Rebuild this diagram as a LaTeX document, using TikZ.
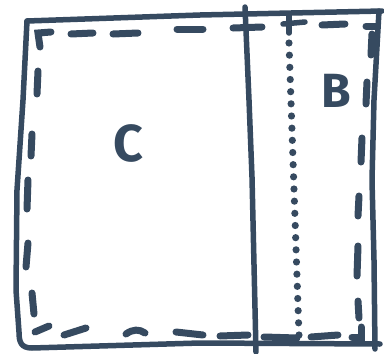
\documentclass[tikz,border=0pt]{standalone}
\usepackage{fontspec}
\setsansfont{Fira Sans}
\definecolor{ink}{RGB}{54,74,96}
\begin{document}
\begin{tikzpicture}[x=1pt,y=-1pt,
  outline/.style={draw=ink,line width=5.5pt,line cap=round,line join=round},
  dashstroke/.style={draw=ink,line width=7pt,line cap=round},
  letter/.style={text=ink,font=\sffamily\bfseries\fontsize{52}{52}\selectfont,inner sep=0pt}]
\useasboundingbox (0,0) rectangle (384,354);
% outer frame
\draw[outline] (27,21) -- (200,15) -- (382,11);
\draw[outline] (379,11) -- (374,100) -- (372,180) -- (374,260) -- (375,349);
\draw[outline] (380,344) -- (200,343) -- (32,348) .. controls (21,348) and (19,342) .. (19,332) -- (16,290) -- (17,190) -- (23,100) -- (27,21);
% divider
\draw[outline] (245,7) -- (249,100) -- (252,177) -- (256,352);
% dotted line with cross at top
\draw[dashstroke,line width=5.5pt] (289,15) -- (289,33);
\draw[dashstroke,line width=5.5pt] (283,24) -- (305,22);
\foreach \i in {0,...,24}{
  \fill[ink] ({289+10*\i/24},{43+292*\i/24}) circle (3.6pt);
}
% dashed inner border: top
\draw[dashstroke] (40,47) -- (38,33) -- (51,32);
\draw[dashstroke] (71,34) -- (93,33);
\draw[dashstroke] (113,34) -- (138,33);
\draw[dashstroke] (177,29) -- (203,29);
\draw[dashstroke] (233,28) -- (262,27);
\draw[dashstroke] (322,25) -- (345,24);
\draw[dashstroke] (366,26) -- (376,26);
% right
\draw[dashstroke] (372,34) -- (371,55);
\draw[dashstroke] (367,82) -- (366,104);
\draw[dashstroke] (362,138) -- (361,162);
\draw[dashstroke] (359,196) -- (358,216);
\draw[dashstroke] (358,246) -- (357,276);
\draw[dashstroke] (358,301) -- (359,318);
\draw[dashstroke] (352,337) -- (361,337) -- (361,327);
% bottom
\draw[dashstroke] (311,337) -- (338,335);
\draw[dashstroke] (264,337) -- (297,338);
\draw[dashstroke] (220,336) -- (248,335);
\draw[dashstroke] (176,332) -- (203,335);
\draw[dashstroke] (126,334) .. controls (133,329) and (139,329) .. (145,333);
\draw[dashstroke] (64,335) -- (86,328);
\draw[dashstroke] (35,332) -- (49,326);
% left
\draw[dashstroke] (38,71) -- (37,94);
\draw[dashstroke] (32,134) -- (31,156);
\draw[dashstroke] (28,180) -- (27,209);
\draw[dashstroke] (28,243) -- (26,267);
\draw[dashstroke] (32,293) -- (34,314);
% labels
\node[letter] (c) at (128,143) {C};
\node[letter,font=\sffamily\bfseries\fontsize{48}{48}\selectfont] (b) at (336,91) {B};
\end{tikzpicture}
\end{document}
